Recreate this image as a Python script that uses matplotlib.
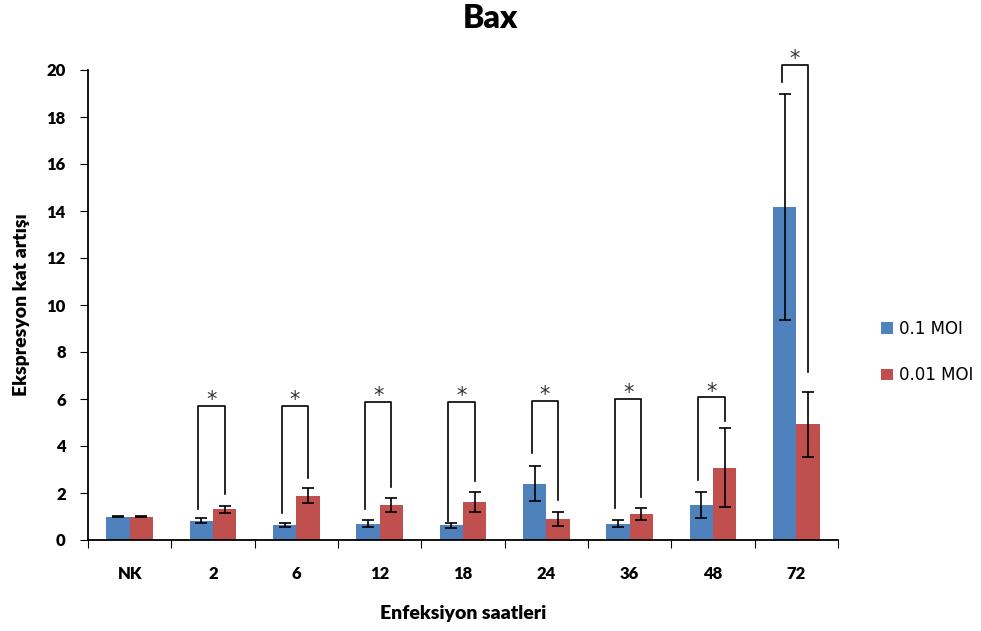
import matplotlib.pyplot as plt
import numpy as np

# dane
categories = ['NK', '2', '6', '12', '18', '24', '36', '48', '72']
moi_01 = [1.0, 0.82, 0.64, 0.70, 0.62, 2.40, 0.70, 1.49, 14.18]
moi_01_err = [0.02, 0.10, 0.10, 0.13, 0.09, 0.76, 0.16, 0.55, 4.8]
moi_001 = [1.0, 1.31, 1.89, 1.49, 1.62, 0.89, 1.09, 3.08, 4.92]
moi_001_err = [0.02, 0.14, 0.32, 0.30, 0.42, 0.30, 0.26, 1.67, 1.39]

# klamry istotnosci (kategorie 2..72): dolny koniec lewy, gora, dolny koniec prawy
sig_left = [1.30, 1.16, 1.30, 0.82, 3.69, 1.38, 2.55, 19.47]
sig_top = [5.70, 5.70, 5.87, 5.87, 5.93, 5.99, 6.07, 20.2]
sig_right = [1.96, 2.64, 2.24, 2.50, 1.70, 1.83, 5.08, 7.13]

blue = '#4F81BD'
red = '#C0504D'
bold_font = 'Lato'

fig = plt.figure(figsize=(9.81, 6.31), dpi=100)
ax = fig.add_axes([88/981, 91/631, 750/981, 470/631])

x = np.arange(len(categories)) + 0.5
w = 0.28
ax.bar(x - w/2, moi_01, w, color=blue, label='0.1 MOI', zorder=2)
ax.bar(x + w/2, moi_001, w, color=red, label='0.01 MOI', zorder=2)
ax.errorbar(x - w/2, moi_01, yerr=moi_01_err, fmt='none', ecolor='black',
            elinewidth=1.2, capsize=4, capthick=1.2, zorder=3)
ax.errorbar(x + w/2, moi_001, yerr=moi_001_err, fmt='none', ecolor='black',
            elinewidth=1.2, capsize=4, capthick=1.2, zorder=3)

# klamry z gwiazdkami
for i in range(len(sig_top)):
    xl = x[i + 1] - w/2 - 0.036
    xr = x[i + 1] + w/2
    ax.plot([xl, xl, xr, xr], [sig_left[i], sig_top[i], sig_top[i], sig_right[i]],
            color='black', lw=1.2, clip_on=False, zorder=4)
    ax.annotate('*', ((xl + xr) / 2, sig_top[i]), xytext=(0, -3),
                textcoords='offset points', ha='center', va='bottom',
                fontsize=15, color='#333333', fontfamily='DejaVu Sans',
                annotation_clip=False)

ax.set_xlim(0, len(categories))
ax.set_ylim(0, 20)
ax.set_yticks(np.arange(0, 21, 2))
ax.set_xticks(np.arange(len(categories) + 1))
ax.set_xticklabels([])
ax.set_xticks(x, minor=True)
ax.set_xticklabels(categories, minor=True)
ax.tick_params(axis='x', which='minor', length=0, pad=19)
ax.tick_params(axis='x', which='major', length=6, direction='out')
ax.tick_params(axis='y', length=6, direction='out', pad=10)
for lab in ax.get_xticklabels(minor=True) + ax.get_yticklabels():
    lab.set_fontfamily(bold_font)
    lab.set_fontweight('heavy')
    lab.set_fontsize(12)
ax.spines['top'].set_visible(False)
ax.spines['right'].set_visible(False)
ax.spines['left'].set_linewidth(1.3)
ax.spines['bottom'].set_linewidth(1.3)

ax.set_xlabel('Enfeksiyon saatleri', fontsize=14, fontweight='heavy',
              fontfamily=bold_font, labelpad=16)
ax.set_ylabel('Ekspresyon kat artışı', fontsize=14, fontweight='heavy',
              fontfamily=bold_font, labelpad=12)
fig.text(490/981, 1 - 28/631, 'Bax', ha='center', va='baseline', fontsize=23,
         fontweight='heavy', fontfamily=bold_font)

ax.legend(loc='center left', bbox_to_anchor=(866/981, (631 - 352)/631),
          bbox_transform=fig.transFigure, frameon=False,
          handlelength=0.7, handleheight=0.7, labelspacing=1.7,
          handletextpad=0.4, prop={'family': 'DejaVu Sans', 'size': 12})

fig.savefig('out.png', dpi=100)
